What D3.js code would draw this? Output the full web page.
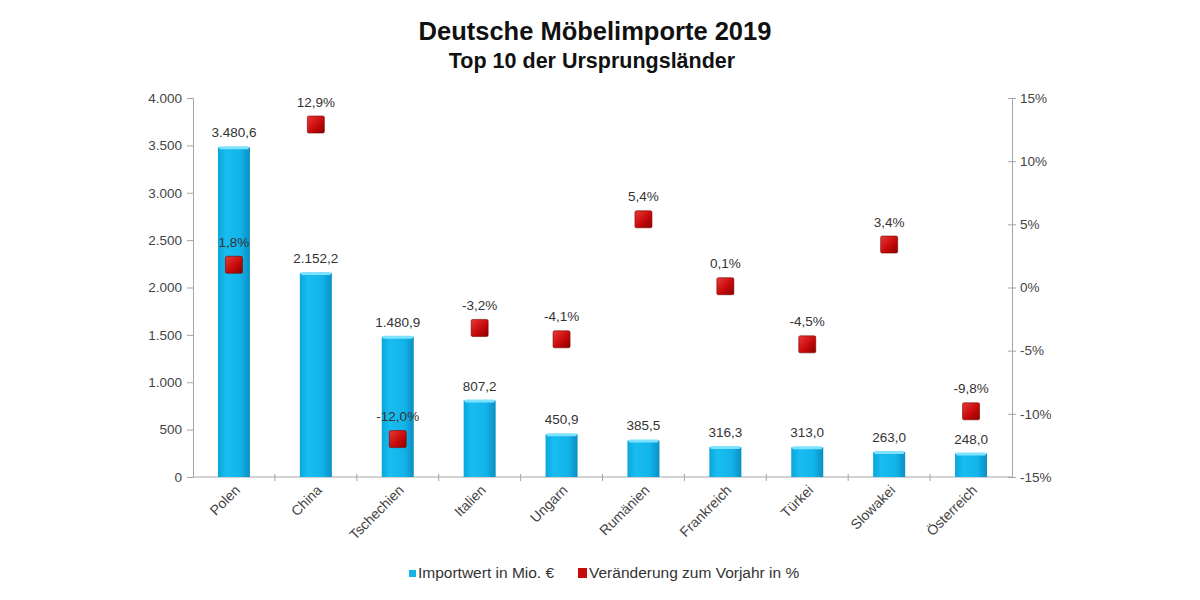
<!doctype html>
<html>
<head>
<meta charset="utf-8">
<script src="https://d3js.org/d3.v7.min.js"></script>
<style>
  body { margin: 0; background: #fff; }
  svg { font-family: Arial, "Liberation Sans", sans-serif; }
</style>
</head>
<body>
<svg width="1200" height="600" id="chart"></svg>
<script>
// data
var countries = ["Polen", "China", "Tschechien", "Italien", "Ungarn", "Rumänien", "Frankreich", "Türkei", "Slowakei", "Österreich"];
var importValues = [3480.6, 2152.2, 1480.9, 807.2, 450.9, 385.5, 316.3, 313.0, 263.0, 248.0];
var changePct = [1.8, 12.9, -12.0, -3.2, -4.1, 5.4, 0.1, -4.5, 3.4, -9.8];
var leftTicks = [0, 500, 1000, 1500, 2000, 2500, 3000, 3500, 4000];
var rightTicks = [-15, -10, -5, 0, 5, 10, 15];

(function () {
var svg = d3.select("#chart");
var plotLeft = 193, plotRight = 1012, plotTop = 98, plotBottom = 477;

var fmt = function (v, dec) {
  var s = v.toFixed(dec).replace(".", ",");
  var parts = s.split(",");
  parts[0] = parts[0].replace(/\B(?=(\d{3})+(?!\d))/g, ".");
  return parts.join(",");
};

var x = d3.scaleBand().domain(countries).range([plotLeft, plotRight]).paddingInner(0).paddingOuter(0);
var yL = d3.scaleLinear().domain([0, 4000]).range([plotBottom, plotTop]);
var yR = d3.scaleLinear().domain([-15, 15]).range([plotBottom, plotTop]);

// gradients
var defs = svg.append("defs");
var bg = defs.append("linearGradient").attr("id", "barGrad").attr("x1", "0").attr("x2", "1");
bg.append("stop").attr("offset", "0%").attr("stop-color", "#0aa6dc");
bg.append("stop").attr("offset", "25%").attr("stop-color", "#19bdf0");
bg.append("stop").attr("offset", "70%").attr("stop-color", "#12b4ea");
bg.append("stop").attr("offset", "100%").attr("stop-color", "#0b8fc2");
var rg = defs.append("linearGradient").attr("id", "redGrad").attr("x1", "0").attr("y1", "0").attr("x2", "1").attr("y2", "1");
rg.append("stop").attr("offset", "0%").attr("stop-color", "#e83a3a");
rg.append("stop").attr("offset", "55%").attr("stop-color", "#c80a0a");
rg.append("stop").attr("offset", "100%").attr("stop-color", "#8a0000");

// title
svg.append("text").attr("x", 595).attr("y", 40).attr("text-anchor", "middle")
  .style("font-size", "25.5px").style("font-weight", "bold").attr("fill", "#111")
  .text("Deutsche Möbelimporte 2019");
svg.append("text").attr("x", 592).attr("y", 68).attr("text-anchor", "middle")
  .style("font-size", "21.5px").style("font-weight", "bold").attr("fill", "#111")
  .text("Top 10 der Ursprungsländer");

// axes
var axisColor = "#a6a6a6";
var gL = svg.append("g").attr("transform", "translate(" + plotLeft + ",0)")
  .call(d3.axisLeft(yL).tickValues(leftTicks).tickSize(6).tickPadding(5).tickFormat(function (d) { return fmt(d, 0); }));
var gR = svg.append("g").attr("transform", "translate(" + plotRight + ",0)")
  .call(d3.axisRight(yR).tickValues(rightTicks).tickSize(0).tickPadding(8).tickFormat(function (d) { return d + "%"; }));
[gL, gR].forEach(function (g) {
  g.select(".domain").attr("stroke", axisColor);
  g.selectAll(".tick line").attr("stroke", axisColor);
  g.selectAll(".tick text").attr("fill", "#444").style("font-size", "13.5px").style("font-family", "Arial, 'Liberation Sans', sans-serif");
});
gR.selectAll(".tick").append("line").attr("x1", -4).attr("x2", 4).attr("stroke", axisColor);

// x axis line and boundary ticks
svg.append("line").attr("x1", plotLeft).attr("x2", plotRight).attr("y1", plotBottom).attr("y2", plotBottom).attr("stroke", axisColor);
svg.selectAll(".xtick").data(countries.slice(1)).enter().append("line")
  .attr("x1", function (d) { return x(d); }).attr("x2", function (d) { return x(d); })
  .attr("y1", plotBottom - 3).attr("y2", plotBottom + 4).attr("stroke", axisColor);

// x labels
svg.selectAll(".xlab").data(countries).enter().append("text")
  .attr("transform", function (d) { return "translate(" + (x(d) + x.bandwidth() / 2 + 7) + "," + (plotBottom + 14) + ") rotate(-45)"; })
  .attr("text-anchor", "end").attr("fill", "#444").style("font-size", "14px")
  .text(function (d) { return d; });

// bars
var bw = 32;
var bars = svg.append("g");
bars.selectAll("rect.bar").data(countries).enter().append("rect").attr("class", "bar")
  .attr("x", function (d) { return x(d) + x.bandwidth() / 2 - bw / 2; })
  .attr("y", function (d, i) { return yL(importValues[i]); })
  .attr("width", bw)
  .attr("height", function (d, i) { return plotBottom - yL(importValues[i]); })
  .attr("fill", "url(#barGrad)");
bars.selectAll("rect.cap").data(countries).enter().append("rect").attr("class", "cap")
  .attr("x", function (d) { return x(d) + x.bandwidth() / 2 - bw / 2 + 1; })
  .attr("y", function (d, i) { return yL(importValues[i]) - 1; })
  .attr("width", bw - 2).attr("height", 3).attr("rx", 1.5)
  .attr("fill", "#7fe3ff");
bars.selectAll("text.vlab").data(countries).enter().append("text").attr("class", "vlab")
  .attr("x", function (d) { return x(d) + x.bandwidth() / 2; })
  .attr("y", function (d, i) { return yL(importValues[i]) - 10; })
  .attr("text-anchor", "middle").attr("fill", "#333").style("font-size", "13.5px")
  .text(function (d, i) { return fmt(importValues[i], 1); });

// markers
var ms = 17;
var marks = svg.append("g");
marks.selectAll("rect").data(countries).enter().append("rect")
  .attr("x", function (d) { return x(d) + x.bandwidth() / 2 - ms / 2; })
  .attr("y", function (d, i) { return yR(changePct[i]) - ms / 2; })
  .attr("width", ms).attr("height", ms).attr("rx", 1.5)
  .attr("fill", "url(#redGrad)").attr("stroke", "#7a0000").attr("stroke-width", 0.6);
marks.selectAll("text").data(countries).enter().append("text")
  .attr("x", function (d) { return x(d) + x.bandwidth() / 2; })
  .attr("y", function (d, i) { return yR(changePct[i]) - 18; })
  .attr("text-anchor", "middle").attr("fill", "#333").style("font-size", "13.5px")
  .text(function (d, i) { return fmt(changePct[i], 1) + "%"; });

// legend
var lg = svg.append("g").attr("transform", "translate(0,578)");
lg.append("rect").attr("x", 409).attr("y", -8).attr("width", 7).attr("height", 7).attr("fill", "#12b4ea");
lg.append("text").attr("x", 418).attr("y", 0).attr("fill", "#333").style("font-size", "15.5px").text("Importwert in Mio. €");
lg.append("rect").attr("x", 578).attr("y", -10).attr("width", 9).attr("height", 10).attr("fill", "#c80a0a");
lg.append("text").attr("x", 589).attr("y", 0).attr("fill", "#333").style("font-size", "15.5px").text("Veränderung zum Vorjahr in %");
})();
</script>
</body>
</html>
